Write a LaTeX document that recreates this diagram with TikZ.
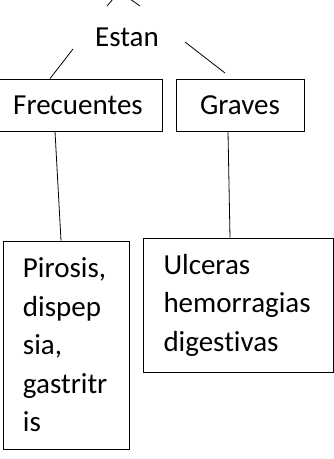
\documentclass[tikz,border=0pt]{standalone}
\usepackage{fontspec}
\setmainfont{Carlito}[Ligatures=NoCommon]
\usetikzlibrary{positioning}

\begin{document}
\begin{tikzpicture}[x=1pt,y=1pt, font=\fontsize{29}{38.5}\selectfont,
 b/.style={draw,line width=0.8pt,inner sep=0pt},
 t/.style={b,align=left,inner xsep=20pt},
 a/.style={line width=0.8pt}]
\useasboundingbox (0,0) rectangle (334,459);
\clip (0,0) rectangle (334,459);
\node (estan) at (127,422) {Estan};
\node[b,minimum width=168pt,minimum height=52pt] (frec) at (78,354) {Frecuentes};
\node[b,minimum width=128pt,minimum height=52pt] (grav) at (240,354) {Graves};
\node[t,text width=86pt,minimum height=208pt] (piro) at (66,114) {Pirosis,\\dispep\\sia,\\gastritr\\is};
\node[t,text width=150pt,minimum height=134pt] (ulc) at (238.5,154) {Ulceras\\hemorragias\\digestivas};
% free ends of the links
\coordinate (up1) at (113,460);\coordinate (up2) at (130,460);
\coordinate (e1) at (107,453);\coordinate (e2) at (140,453);
\coordinate (ef) at (73,410);\coordinate (eg) at (185,417);
\coordinate (gt) at (225,386);
\draw[a] (e1)--(up1);\draw[a] (up2)--(e2);
\draw[a] (ef)--(frec.north west -| 50,0);
\draw[a] (eg)--(gt);
\draw[a] (frec.south -| 55,0)--(piro.north -| 61,0);
\draw[a] (grav.south -| 228,0)--(ulc.north -| 230,0);
\end{tikzpicture}
\end{document}
